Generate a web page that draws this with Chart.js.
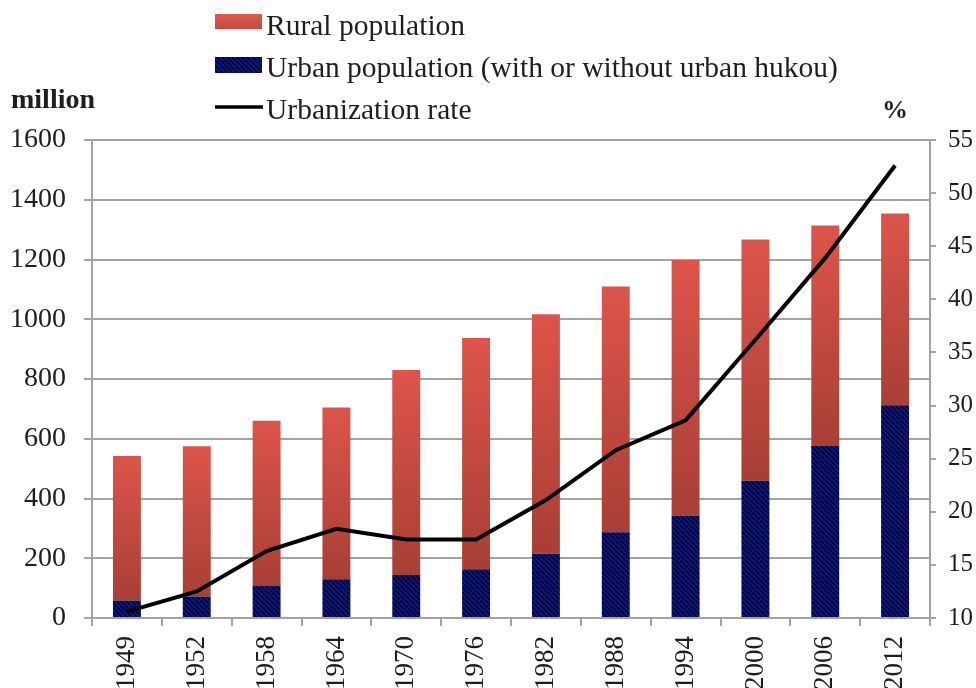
<!DOCTYPE html>
<html>
<head>
<meta charset="utf-8">
<script src="https://cdn.jsdelivr.net/npm/chart.js@4.4.1/dist/chart.umd.min.js"></script>
<style>
    html, body { margin: 0; padding: 0; background: #fff; }
    #wrap { width: 976px; height: 688px; }
</style>
</head>
<body>
<div id="wrap"><canvas id="chart" width="976" height="688"></canvas></div>
<script>
const years = ['1949', '1952', '1958', '1964', '1970', '1976', '1982', '1988', '1994', '2000', '2006', '2012'];
const urbanPop = [58, 72, 107, 130, 144, 163, 215, 287, 343, 459, 577, 712];
const ruralPop = [484, 503, 553, 575, 686, 774, 802, 823, 855, 808, 737, 642];
const urbanRate = [10.6, 12.5, 16.3, 18.4, 17.4, 17.4, 21.1, 25.8, 28.6, 36.2, 43.9, 52.6];

const leftTicks = {min: 0, max: 1600, step: 200};
const rightTicks = {min: 10, max: 55, step: 5};

const legendLabels = ['Rural population', 'Urban population (with or without urban hukou)', 'Urbanization rate'];

const SERIF = '"Liberation Serif", "Times New Roman", serif';
const GRID = '#a3a3a3';
const TEXT = '#1e1e1e';

// blue bars with dark diagonal hatching
function hatch() {
    const s = 5;
    const c = document.createElement('canvas');
    c.width = s; c.height = s;
    const g = c.getContext('2d');
    g.fillStyle = '#0c1a8a';
    g.fillRect(0, 0, s, s);
    g.strokeStyle = 'rgba(0,0,25,0.9)';
    g.lineWidth = 1.6;
    for (let k = -1; k <= 1; k++) {
        g.beginPath();
        g.moveTo(k * s, 0);
        g.lineTo(k * s + s, s);
        g.stroke();
    }
    return g.createPattern(c, 'repeat');
}
const urbanFill = hatch();

function ruralFill(context) {
    const chart = context.chart;
    const ys = chart.scales.y;
    if (!chart.chartArea || !ys || context.dataIndex === undefined) return '#d24d43';
    const i = context.dataIndex;
    const top = ys.getPixelForValue(urbanPop[i] + ruralPop[i]);
    const bot = ys.getPixelForValue(urbanPop[i]);
    if (!isFinite(top) || !isFinite(bot)) return '#d24d43';
    const g = chart.ctx.createLinearGradient(0, top, 0, bot);
    g.addColorStop(0, '#dd544a');
    g.addColorStop(1, '#a83f35');
    return g;
}

const legendPlugin = {
    id: 'sideLegend',
    afterDraw(chart) {
        const ctx = chart.ctx;
        ctx.save();
        // red swatch
        const sg = ctx.createLinearGradient(0, 14, 0, 29);
        sg.addColorStop(0, '#dd5a50');
        sg.addColorStop(1, '#c94a40');
        ctx.fillStyle = sg;
        ctx.fillRect(215, 14, 47, 15);
        // blue swatch
        ctx.fillStyle = urbanFill;
        ctx.fillRect(215, 57, 47, 16);
        // line swatch
        ctx.strokeStyle = '#000';
        ctx.lineWidth = 3.5;
        ctx.beginPath();
        ctx.moveTo(215, 107);
        ctx.lineTo(263, 107);
        ctx.stroke();

        ctx.fillStyle = TEXT;
        ctx.font = '29.5px ' + SERIF;
        ctx.textBaseline = 'alphabetic';
        ctx.textAlign = 'left';
        ctx.fillText(legendLabels[0], 266, 35);
        ctx.fillText(legendLabels[1], 266, 77);
        ctx.fillText(legendLabels[2], 266, 119);

        ctx.font = 'bold 28px ' + SERIF;
        ctx.fillText('million', 11, 108);
        ctx.font = 'bold 26px ' + SERIF;
        ctx.fillText('%', 882, 118);
        ctx.restore();
    }
};

new Chart(document.getElementById('chart'), {
    type: 'bar',
    data: {
        labels: years,
        datasets: [
            {
                type: 'line',
                label: legendLabels[2],
                data: urbanRate,
                yAxisID: 'y1',
                borderColor: '#000',
                borderWidth: 4,
                pointRadius: 0,
                tension: 0,
                order: 0,
            },
            {
                label: legendLabels[1],
                data: urbanPop,
                backgroundColor: urbanFill,
                stack: 'pop',
                order: 1,
            },
            {
                label: legendLabels[0],
                data: ruralPop,
                backgroundColor: ruralFill,
                stack: 'pop',
                order: 1,
            },
        ],
    },
    options: {
        responsive: false,
        animation: false,
        layout: {padding: {top: 140, left: 0, right: 0, bottom: 0}},
        datasets: {
            bar: {categoryPercentage: 1, barPercentage: 0.4},
        },
        plugins: {
            legend: {display: false},
            tooltip: {enabled: false},
        },
        scales: {
            x: {
                stacked: true,
                grid: {
                    display: true,
                    drawOnChartArea: false,
                    drawTicks: true,
                    tickLength: 8,
                    color: GRID,
                    lineWidth: 2,
                },
                border: {color: GRID, width: 2},
                ticks: {
                    color: TEXT,
                    font: {family: SERIF, size: 27},
                    minRotation: 90,
                    maxRotation: 90,
                    padding: 10,
                },
                afterFit: s => { s.height = 70; },
            },
            y: {
                stacked: true,
                min: leftTicks.min,
                max: leftTicks.max,
                ticks: {
                    stepSize: leftTicks.step,
                    color: TEXT,
                    font: {family: SERIF, size: 28},
                    padding: 18,
                    callback: v => String(v),
                },
                grid: {color: GRID, lineWidth: 2, tickLength: 8},
                border: {color: GRID, width: 2},
                afterFit: s => { s.width = 92; },
            },
            y1: {
                position: 'right',
                min: rightTicks.min,
                max: rightTicks.max,
                ticks: {
                    stepSize: rightTicks.step,
                    color: TEXT,
                    font: {family: SERIF, size: 25},
                    padding: 12,
                    callback: v => String(v),
                },
                grid: {drawOnChartArea: false, color: GRID, lineWidth: 2, tickLength: 6},
                border: {color: GRID, width: 2},
                afterFit: s => { s.width = 46; },
            },
        },
    },
    plugins: [legendPlugin],
});
</script>
</body>
</html>
